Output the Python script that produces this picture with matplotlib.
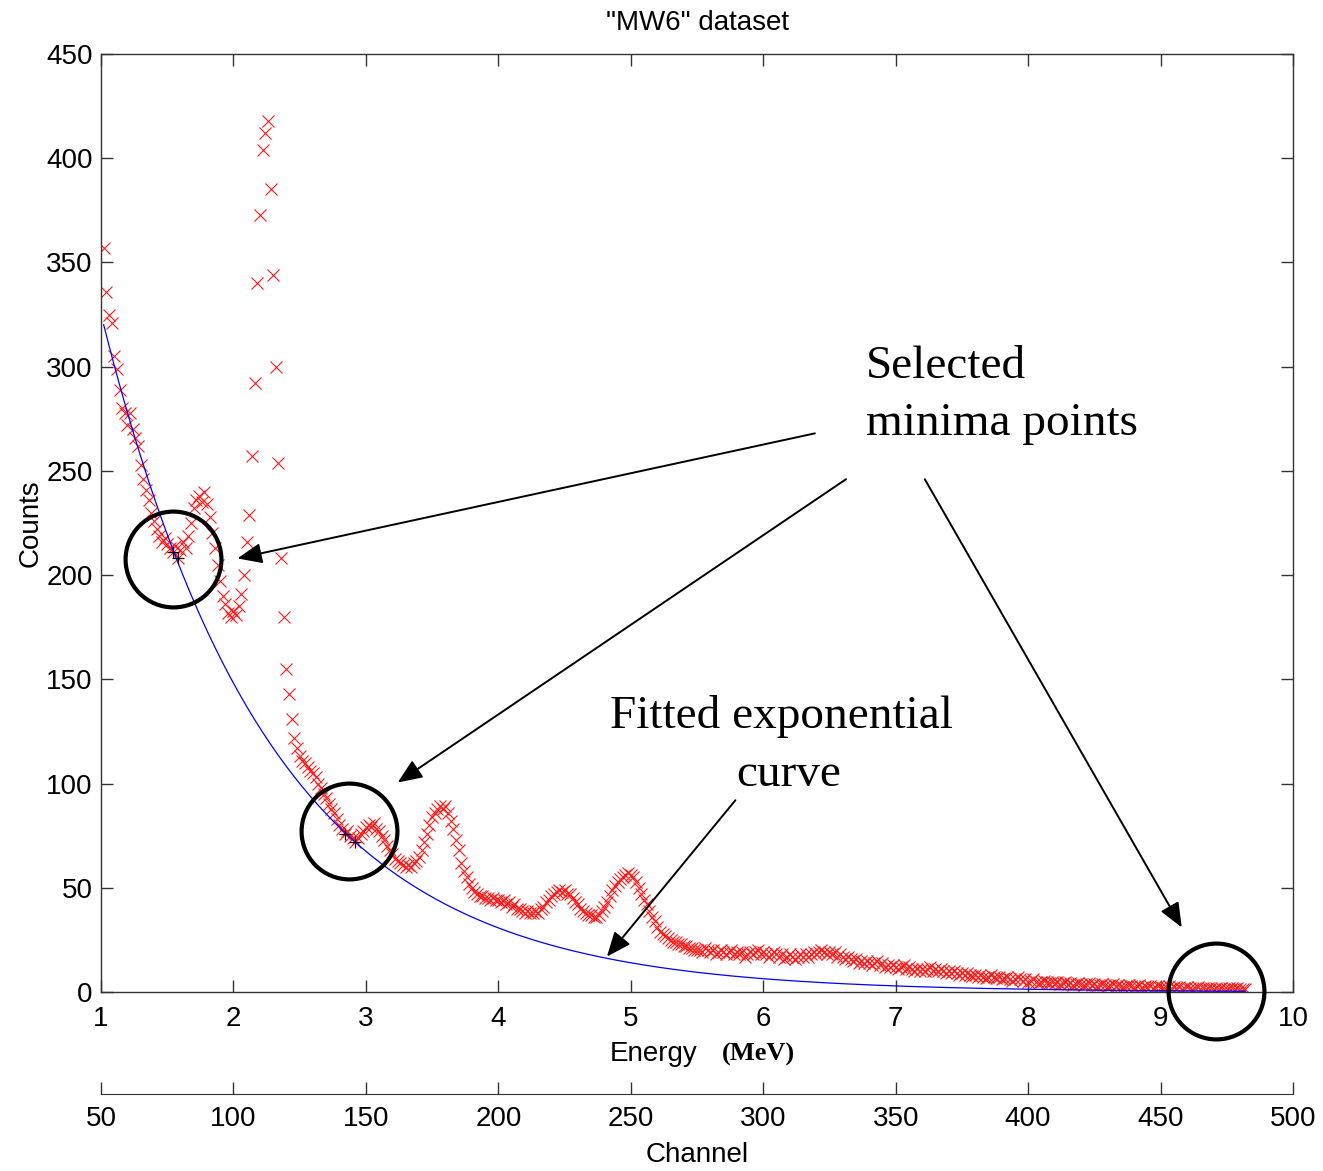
import numpy as np
import matplotlib
matplotlib.use('Agg')
import matplotlib.pyplot as plt

plt.rcParams['font.family'] = ['Liberation Sans', 'DejaVu Sans']

# spectrum, channels 51..482 (10 channels per row)
counts = [
    357, 336, 325, 321, 305, 299, 289, 280, 278, 272,
    278, 270, 266, 262, 253, 246, 241, 236, 230, 226,
    222, 219, 216, 218, 215, 213, 211, 214, 208, 212,
    216, 213, 219, 225, 232, 236, 238, 235, 240, 234,
    228, 220, 213, 205, 197, 190, 186, 182, 180, 183,
    181, 185, 191, 200, 216, 229, 257, 292, 340, 373,
    404, 412, 418, 385, 344, 300, 254, 208, 180, 155,
    143, 131, 122, 117, 113, 111, 110, 108, 106, 105,
    103, 100, 98, 95, 93, 90, 88, 86, 83, 80,
    78, 76, 77, 75, 74, 72, 74, 76, 77, 79,
    80, 79, 81, 78, 77, 75, 73, 70, 68, 66,
    64, 63, 62, 61, 60, 61, 60, 62, 63, 65,
    68, 72, 76, 80, 84, 86, 88, 89, 88, 89,
    86, 82, 78, 73, 68, 62, 58, 55, 52, 50,
    48, 47, 46, 46, 45, 45, 44, 45, 44, 44,
    43, 44, 42, 43, 41, 42, 40, 40, 39, 38,
    39, 38, 38, 39, 38, 40, 41, 43, 44, 46,
    47, 48, 49, 48, 49, 47, 47, 45, 43, 42,
    40, 39, 38, 37, 37, 36, 36, 37, 39, 41,
    43, 46, 49, 51, 53, 54, 55, 56, 57, 56,
    55, 53, 50, 47, 44, 42, 39, 36, 34, 31,
    29, 28, 27, 26, 25, 24, 24, 23, 23, 22,
    22, 21, 21, 20, 20, 20, 19, 21, 20, 19,
    20, 18, 19, 20, 19, 18, 19, 20, 18, 19,
    18, 19, 17, 18, 19, 18, 19, 20, 18, 19,
    18, 17, 18, 19, 18, 17, 18, 16, 17, 18,
    17, 16, 17, 18, 17, 18, 17, 18, 19, 18,
    19, 20, 19, 18, 19, 18, 19, 17, 18, 17,
    16, 17, 16, 15, 16, 14, 15, 14, 15, 14,
    13, 14, 15, 13, 14, 12, 13, 12, 13, 12,
    11, 12, 13, 11, 12, 11, 10, 11, 10, 11,
    10, 11, 12, 10, 11, 10, 11, 10, 9, 10,
    9, 10, 9, 8, 9, 8, 9, 8, 7.5, 8,
    7, 8, 7, 6.5, 7, 8, 7, 6.5, 7, 6,
    6.5, 7, 6, 5.5, 6, 7, 6, 5.5, 6, 5,
    5.5, 6, 5, 4.5, 5, 5.5, 5, 4.5, 5, 4.5,
    5, 4, 4.5, 5, 4, 4.5, 3.5, 4, 4.5, 4,
    3.5, 4, 4.5, 3.5, 4, 3, 3.5, 4, 3.5, 3,
    3.5, 4, 3, 3.5, 3, 2.5, 3, 3.5, 3, 2.5,
    3, 3.5, 2.5, 3, 2.5, 3, 2, 2.5, 3, 2.5,
    2, 2.5, 3, 2, 2.5, 2, 2.5, 1.5, 2, 2.5,
    2, 1.5, 2, 2.5, 1.5, 2, 1.5, 2, 1.8, 1.2,
    1.8, 1.5, 2, 1.6, 1.3, 1.7, 2, 1.5, 1.8, 1.4,
    1.6, 1.2,
]
first_channel = 51
kev_per_channel = 20.0   # calibration: E[MeV] = channel * 0.02

minima_ch = [77, 79, 142, 146, 470, 475]

energy_ticks = list(range(1, 11))
count_ticks = list(range(0, 451, 50))
channel_ticks = list(range(50, 501, 50))

counts = np.array(counts, dtype=float)
channels = first_channel + np.arange(len(counts))
energy = channels * kev_per_channel / 1000.0

min_idx = np.array(minima_ch) - first_channel
min_e = energy[min_idx]
min_c = counts[min_idx]

# exponential through the minima (log fit, weighted towards the large counts)
slope, icpt = np.polyfit(min_e, np.log(min_c), 1, w=min_c)
fit_curve = np.exp(icpt + slope * energy)

fig = plt.figure(figsize=(13.23, 11.71), dpi=100)
W, H = 1323.0, 1171.0
ax = fig.add_axes([101 / W, 1 - 992 / H, 1192 / W, 938 / H])

ax.plot(energy, counts, 'x', color='#ff1a1a', ms=8, mew=0.8, zorder=2)
ax.plot(energy, fit_curve, '-', color='#0000ff', lw=0.9, zorder=3)
# markers only where they stand clear of the baseline
show = min_c > 10
ax.plot(min_e[show], min_c[show], '+', color='k', ms=9, mew=0.9, zorder=4)

ax.set_xlim(1, 10)
ax.set_ylim(0, 450)
ax.set_xticks(energy_ticks)
ax.set_yticks(count_ticks)
ax.tick_params(direction='in', length=8.5, width=1, colors='#333333',
               labelcolor='black', labelsize=20, pad=6,
               top=True, right=True)
ax.tick_params(axis='x', pad=10)
for sp in ax.spines.values():
    sp.set_color('#333333')
    sp.set_linewidth(1)

ax.set_title('"MW6" dataset', fontsize=20, pad=17)
ax.set_ylabel('Counts', fontsize=20, labelpad=2)
ax.text(0.464, -0.0735, 'Energy', transform=ax.transAxes, fontsize=20,
        ha='center', va='baseline')
ax.text(0.521, -0.0735, '(MeV)', transform=ax.transAxes, fontsize=19,
        family='Liberation Serif', weight='bold', ha='left', va='baseline')

# circles around the selected minima
circle_centres = [(1.545, 207.5), (2.87, 77.0), (9.42, 0.5)]
for cx, cy in circle_centres:
    ax.plot(cx, cy, 'o', ms=69, mfc='none', mec='k', mew=3,
            clip_on=False, zorder=5)

arrow = dict(arrowstyle='-|>,head_length=0.6,head_width=0.25',
             color='k', lw=1.4, mutation_scale=25, shrinkA=0, shrinkB=0)
for tail, tip in [((6.39, 268), (2.03, 208)),
                  ((6.625, 246), (3.24, 100.5)),
                  ((7.22, 246), (9.16, 31)),
                  ((5.79, 92), (4.82, 17))]:
    ax.annotate('', xy=tip, xytext=tail, arrowprops=arrow, zorder=6)

serif = dict(family='Liberation Serif', fontsize=34)
ax.text(6.776, 294.5, 'Selected', ha='left', va='baseline', **serif)
ax.text(6.776, 267.0, 'minima points', ha='left', va='baseline', **serif)
ax.text(6.14, 126.5, 'Fitted exponential', ha='center', va='baseline', **serif)
ax.text(6.19, 99.0, 'curve', ha='center', va='baseline', **serif)

# channel scale underneath
cax = fig.add_axes([101 / W, 1 - 1094 / H, 1192 / W, 0.0001])
cax.set_xlim(50, 500)
cax.set_xticks(channel_ticks)
cax.set_yticks([])
for side in ('top', 'left', 'right'):
    cax.spines[side].set_visible(False)
cax.spines['bottom'].set_color('#333333')
cax.tick_params(axis='x', direction='in', length=8.5, width=1,
                colors='#333333', labelcolor='black', labelsize=20, pad=9)
cax.patch.set_alpha(0)
cax.set_xlabel('Channel', fontsize=20, labelpad=7)

fig.savefig('out.png', dpi=100)
